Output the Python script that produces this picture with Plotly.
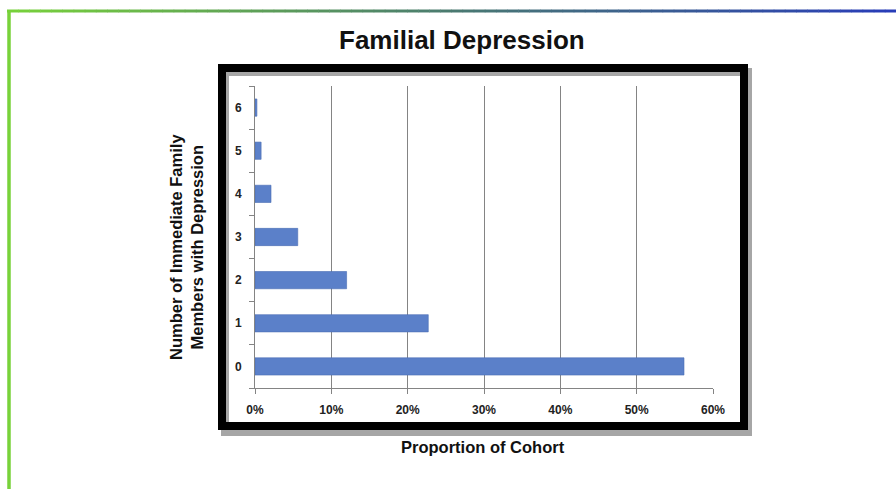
import plotly.graph_objects as go

# Family members with depression (category) and share of the cohort
members = ["0", "1", "2", "3", "4", "5", "6"]
proportion = [0.562, 0.227, 0.120, 0.056, 0.021, 0.008, 0.0025]
x_ticks = [0, 0.1, 0.2, 0.3, 0.4, 0.5, 0.6]
x_tick_labels = ["0%", "10%", "20%", "30%", "40%", "50%", "60%"]

W, H = 896, 489
L, R, T, B = 255, 713, 86, 388

fig = go.Figure(
    go.Bar(
        x=proportion,
        y=members,
        orientation="h",
        marker=dict(color="#5b80c9", line=dict(color="#4a6db3", width=0.6)),
        width=0.4,
    )
)

font = "Liberation Sans, Arial, sans-serif"

fig.update_layout(
    width=W,
    height=H,
    margin=dict(l=L, r=W - R, t=T, b=H - B),
    paper_bgcolor="white",
    plot_bgcolor="white",
    showlegend=False,
    font=dict(family=font, color="#111111"),
    xaxis=dict(
        range=[0, 0.6],
        tickvals=x_ticks,
        ticktext=["<b>%s</b>" % t for t in x_tick_labels],
        showgrid=True,
        gridcolor="#848484",
        gridwidth=1,
        showline=True,
        linecolor="#848484",
        ticks="outside",
        ticklen=5,
        tickcolor="#848484",
        ticklabelstandoff=6,
        tickfont=dict(size=12, family=font, color="#222222"),
        zeroline=False,
        fixedrange=True,
    ),
    yaxis=dict(
        type="category",
        categoryorder="array",
        categoryarray=members,
        tickvals=members,
        ticktext=["<b>%s</b>" % m for m in members],
        showgrid=False,
        showline=True,
        linecolor="#848484",
        ticks="outside",
        tickson="boundaries",
        ticklen=5,
        tickcolor="#848484",
        ticklabelstandoff=10,
        tickfont=dict(size=12, family=font, color="#222222"),
        fixedrange=True,
    ),
)

# Convert figure pixel positions to paper coordinates (plot area = 0..1)
def px(x):
    return (x - L) / (R - L)

def py(y):
    return (B - y) / (B - T)

shapes = []
# Drop shadow and thick black frame around the chart
shapes.append(dict(type="rect", xref="paper", yref="paper",
                   x0=px(225), x1=px(748), y0=py(72), y1=py(432),
                   line=dict(color="rgba(0,0,0,0.35)", width=8), layer="below"))
shapes.append(dict(type="rect", xref="paper", yref="paper",
                   x0=px(222), x1=px(744), y0=py(68), y1=py(426),
                   line=dict(color="black", width=8), layer="below"))

# Slide decoration: green left rule and a green-to-blue top rule
shapes.append(dict(type="line", xref="paper", yref="paper",
                   x0=px(9), x1=px(9), y0=py(10), y1=py(489),
                   line=dict(color="#78d23a", width=3.5)))

def lerp(c1, c2, t):
    return tuple(round(a + (b - a) * t) for a, b in zip(c1, c2))

stops = [(0.0, (120, 210, 58)), (0.5, (74, 122, 112)), (1.0, (40, 60, 185))]
n = 80
x_start, x_end = 7, 896
for i in range(n):
    t = (i + 0.5) / n
    for (t0, c0), (t1, c1) in zip(stops[:-1], stops[1:]):
        if t0 <= t <= t1:
            col = lerp(c0, c1, (t - t0) / (t1 - t0))
            break
    xa = x_start + (x_end - x_start) * i / n
    xb = x_start + (x_end - x_start) * (i + 1) / n + 0.5
    shapes.append(dict(type="line", xref="paper", yref="paper",
                       x0=px(xa), x1=px(xb), y0=py(11), y1=py(11),
                       line=dict(color="rgb(%d,%d,%d)" % col, width=3)))

fig.update_layout(shapes=shapes)

fig.add_annotation(text="<b>Familial Depression</b>", xref="paper", yref="paper",
                   x=px(462), y=py(40), xanchor="center", yanchor="middle",
                   showarrow=False, font=dict(size=26, family=font, color="#111111"))
fig.add_annotation(text="<b>Proportion of Cohort</b>", xref="paper", yref="paper",
                   x=px(483), y=py(447), xanchor="center", yanchor="middle",
                   showarrow=False, font=dict(size=16.5, family=font, color="#111111"))
fig.add_annotation(text="<b>Number of Immediate Family<br>Members with Depression</b>",
                   xref="paper", yref="paper",
                   x=px(187), y=py(247), xanchor="center", yanchor="middle",
                   textangle=-90, showarrow=False,
                   font=dict(size=16.5, family=font, color="#111111"))

fig.write_html("out.html")
